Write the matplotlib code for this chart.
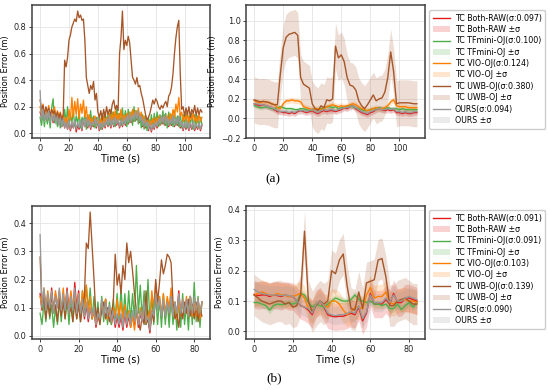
import numpy as np
import matplotlib
matplotlib.use("Agg")
import matplotlib.pyplot as plt

names = ["TC Both-RAW", "TC TFmini-OJ", "TC VIO-OJ", "TC UWB-OJ", "OURS"]
colors = ["#e41a1c", "#4daf4a", "#ff7f00", "#a65628", "#999999"]

a_sigma = [0.097, 0.100, 0.124, 0.380, 0.094]
b_sigma = [0.091, 0.091, 0.103, 0.139, 0.090]
# half width of the shaded band on the smoothed plots
a_band = [0.03, 0.02, 0.03, 0.235, 0.03]
b_band = [0.045, 0.012, 0.04, 0.068, 0.03]

# ---- (a) raw errors, 1 s steps, t = 0..112
a_raw_both = [0.16, 0.12, 0.2, 0.1, 0.15, 0.09, 0.18, 0.11, 0.14, 0.08,
              0.15, 0.1, 0.13, 0.07, 0.12, 0.05, 0.1, 0.04, 0.09, 0.03,
              0.08, 0.02, 0.07, 0.04, 0.09, 0.01, 0.06, 0.03, 0.08, 0.02,
              0.1, 0.05, 0.11, 0.04, 0.09, 0.03, 0.08, 0.05, 0.1, 0.04,
              0.11, 0.02, 0.07, 0.03, 0.08, 0.04, 0.1, 0.05, 0.12, 0.04,
              0.1, 0.05, 0.11, 0.06, 0.1, 0.04, 0.09, 0.05, 0.11, 0.06,
              0.12, 0.07, 0.14, 0.08, 0.13, 0.09, 0.15, 0.1, 0.16, 0.08,
              0.12, 0.05, 0.1, 0.04, 0.08, 0.02, 0.07, 0.01, 0.06, 0.03,
              0.08, 0.04, 0.1, 0.06, 0.12, 0.07, 0.13, 0.06, 0.11, 0.05,
              0.1, 0.06, 0.12, 0.05, 0.11, 0.06, 0.12, 0.04, 0.08, 0.02,
              0.07, 0.03, 0.08, 0.02, 0.07, 0.03, 0.08, 0.02, 0.06, 0.03,
              0.07, 0.02, 0.06]
a_raw_tf = [0.12, 0.06, 0.15, 0.05, 0.17, 0.07, 0.14, 0.04, 0.19, 0.26,
            0.08, 0.15, 0.05, 0.13, 0.04, 0.12, 0.06, 0.18, 0.07, 0.2,
            0.05, 0.14, 0.08, 0.17, 0.05, 0.13, 0.07, 0.16, 0.04, 0.12,
            0.08, 0.15, 0.03, 0.14, 0.06, 0.17, 0.05, 0.13, 0.04, 0.12,
            0.06, 0.14, 0.03, 0.15, 0.05, 0.16, 0.07, 0.14, 0.06, 0.18,
            0.07, 0.16, 0.05, 0.2, 0.08, 0.15, 0.06, 0.19, 0.07, 0.17,
            0.05, 0.18, 0.08, 0.16, 0.06, 0.2, 0.09, 0.17, 0.07, 0.15,
            0.04, 0.14, 0.03, 0.13, 0.02, 0.12, 0.05, 0.14, 0.04, 0.15,
            0.06, 0.16, 0.05, 0.14, 0.07, 0.17, 0.06, 0.15, 0.04, 0.16,
            0.06, 0.14, 0.05, 0.17, 0.06, 0.13, 0.05, 0.15, 0.04, 0.14,
            0.05, 0.16, 0.04, 0.13, 0.06, 0.15, 0.03, 0.14, 0.05, 0.13,
            0.04, 0.12, 0.07]
a_raw_vio = [0.2, 0.14, 0.22, 0.13, 0.19, 0.15, 0.21, 0.12, 0.18, 0.14,
             0.2, 0.11, 0.17, 0.13, 0.16, 0.1, 0.14, 0.08, 0.12, 0.06,
             0.18, 0.1, 0.27, 0.12, 0.24, 0.14, 0.26, 0.11, 0.22, 0.15,
             0.25, 0.12, 0.2, 0.08, 0.14, 0.07, 0.12, 0.06, 0.13, 0.07,
             0.12, 0.06, 0.11, 0.05, 0.13, 0.07, 0.12, 0.08, 0.15, 0.09,
             0.16, 0.1, 0.17, 0.09, 0.15, 0.1, 0.18, 0.09, 0.14, 0.1,
             0.15, 0.09, 0.16, 0.11, 0.18, 0.12, 0.17, 0.13, 0.19, 0.11,
             0.16, 0.09, 0.13, 0.07, 0.11, 0.05, 0.1, 0.06, 0.11, 0.07,
             0.12, 0.08, 0.13, 0.07, 0.12, 0.09, 0.14, 0.08, 0.13, 0.09,
             0.15, 0.1, 0.18, 0.12, 0.22, 0.16, 0.27, 0.13, 0.16, 0.09,
             0.14, 0.09, 0.15, 0.08, 0.14, 0.1, 0.15, 0.09, 0.13, 0.08,
             0.14, 0.09, 0.12]
a_raw_uwb = [0.25, 0.18, 0.21, 0.14, 0.2, 0.16, 0.19, 0.13, 0.18, 0.15,
             0.17, 0.12, 0.16, 0.11, 0.15, 0.1, 0.14, 0.55, 0.5, 0.57,
             0.7, 0.74, 0.8, 0.83, 0.86, 0.84, 0.92, 0.87, 0.89, 0.85,
             0.86, 0.7, 0.42, 0.36, 0.3, 0.36, 0.33, 0.39, 0.25, 0.3,
             0.16, 0.12, 0.17, 0.1, 0.18, 0.12, 0.2, 0.14, 0.18, 0.15,
             0.22, 0.25, 0.18, 0.21, 0.17, 0.6, 0.72, 0.92, 0.63, 0.7,
             0.66, 0.73, 0.68, 0.55, 0.42, 0.4, 0.37, 0.42, 0.35, 0.36,
             0.3, 0.26, 0.2, 0.14, 0.1, 0.12, 0.15, 0.2, 0.25, 0.22,
             0.26, 0.24, 0.2, 0.18, 0.21, 0.19, 0.22, 0.24, 0.2, 0.28,
             0.3, 0.35, 0.45, 0.6, 0.72, 0.8, 0.85, 0.45, 0.18, 0.2,
             0.13, 0.19, 0.14, 0.2, 0.12, 0.18, 0.15, 0.21, 0.13, 0.19,
             0.14, 0.18, 0.16]
a_raw_ours = [0.32, 0.1, 0.18, 0.09, 0.16, 0.1, 0.17, 0.08, 0.15, 0.09,
              0.14, 0.07, 0.13, 0.06, 0.12, 0.05, 0.11, 0.04, 0.09, 0.03,
              0.1, 0.03, 0.09, 0.04, 0.1, 0.03, 0.08, 0.04, 0.1, 0.03,
              0.11, 0.05, 0.12, 0.05, 0.1, 0.04, 0.09, 0.06, 0.11, 0.05,
              0.12, 0.03, 0.08, 0.04, 0.09, 0.05, 0.11, 0.06, 0.13, 0.05,
              0.11, 0.06, 0.12, 0.07, 0.11, 0.05, 0.1, 0.06, 0.12, 0.07,
              0.13, 0.08, 0.15, 0.09, 0.14, 0.1, 0.16, 0.11, 0.17, 0.09,
              0.13, 0.06, 0.11, 0.05, 0.09, 0.03, 0.08, 0.02, 0.07, 0.04,
              0.09, 0.05, 0.11, 0.07, 0.13, 0.08, 0.14, 0.07, 0.12, 0.06,
              0.11, 0.07, 0.13, 0.06, 0.12, 0.07, 0.13, 0.05, 0.09, 0.03,
              0.08, 0.04, 0.09, 0.03, 0.08, 0.04, 0.09, 0.03, 0.07, 0.04,
              0.08, 0.03, 0.07]

# ---- (a) smoothed errors, 2 s steps, t = 0..112
a_sm_both = [0.15, 0.14, 0.13, 0.14, 0.13, 0.12, 0.11, 0.09, 0.07, 0.07,
             0.06, 0.06, 0.05, 0.06, 0.05, 0.07, 0.08, 0.07, 0.06, 0.07,
             0.08, 0.06, 0.05, 0.07, 0.08, 0.07, 0.08, 0.08, 0.07, 0.08,
             0.09, 0.11, 0.10, 0.12, 0.13, 0.10, 0.08, 0.06, 0.05, 0.04,
             0.06, 0.07, 0.09, 0.10, 0.09, 0.08, 0.09, 0.08, 0.09, 0.06,
             0.06, 0.05, 0.06, 0.05, 0.05, 0.06, 0.06]
a_sm_tf = [0.13, 0.12, 0.11, 0.11, 0.12, 0.11, 0.10, 0.10, 0.11, 0.12,
           0.11, 0.10, 0.10, 0.10, 0.09, 0.09, 0.10, 0.10, 0.09, 0.08,
           0.09, 0.10, 0.09, 0.10, 0.11, 0.12, 0.12, 0.11, 0.12, 0.10,
           0.11, 0.12, 0.12, 0.13, 0.12, 0.11, 0.10, 0.09, 0.08, 0.08,
           0.09, 0.10, 0.10, 0.11, 0.10, 0.10, 0.11, 0.10, 0.10, 0.10,
           0.09, 0.10, 0.09, 0.09, 0.09, 0.09, 0.09]
a_sm_vio = [0.18, 0.17, 0.16, 0.17, 0.17, 0.16, 0.15, 0.14, 0.11, 0.10,
            0.15, 0.18, 0.18, 0.19, 0.18, 0.18, 0.17, 0.12, 0.11, 0.10,
            0.09, 0.10, 0.10, 0.09, 0.10, 0.12, 0.13, 0.14, 0.13, 0.12,
            0.13, 0.12, 0.13, 0.14, 0.15, 0.14, 0.12, 0.10, 0.09, 0.08,
            0.09, 0.10, 0.11, 0.10, 0.10, 0.11, 0.13, 0.17, 0.19, 0.13,
            0.12, 0.12, 0.12, 0.11, 0.11, 0.11, 0.11]
a_sm_uwb = [0.19, 0.18, 0.17, 0.175, 0.17, 0.165, 0.15, 0.14, 0.14, 0.45,
            0.72, 0.83, 0.86, 0.87, 0.88, 0.85, 0.42, 0.35, 0.33, 0.31,
            0.15, 0.10, 0.08, 0.13, 0.11, 0.19, 0.18, 0.20, 0.74, 0.62,
            0.65, 0.58, 0.42, 0.34, 0.33, 0.29, 0.18, 0.13, 0.10, 0.14,
            0.19, 0.24, 0.18, 0.20, 0.21, 0.27, 0.42, 0.68, 0.48, 0.15,
            0.16, 0.16, 0.16, 0.16, 0.155, 0.15, 0.15]
a_sm_ours = [0.15, 0.15, 0.14, 0.14, 0.13, 0.12, 0.11, 0.10, 0.08, 0.07,
             0.07, 0.07, 0.06, 0.07, 0.06, 0.08, 0.08, 0.08, 0.07, 0.08,
             0.09, 0.07, 0.06, 0.08, 0.09, 0.08, 0.09, 0.09, 0.08, 0.09,
             0.10, 0.11, 0.11, 0.12, 0.13, 0.11, 0.09, 0.07, 0.06, 0.05,
             0.07, 0.08, 0.09, 0.10, 0.09, 0.09, 0.10, 0.09, 0.10, 0.07,
             0.07, 0.06, 0.07, 0.06, 0.06, 0.07, 0.07]

# ---- (b) raw errors, 1 s steps, t = 0..84
b_raw_both = [0.15, 0.09, 0.16, 0.1, 0.14, 0.08, 0.17, 0.09, 0.15, 0.1,
              0.16, 0.08, 0.14, 0.1, 0.17, 0.09, 0.15, 0.08, 0.19, 0.1,
              0.16, 0.07, 0.14, 0.06, 0.11, 0.05, 0.1, 0.06, 0.09, 0.03,
              0.07, 0.05, 0.12, 0.07, 0.13, 0.06, 0.1, 0.04, 0.08, 0.03,
              0.07, 0.03, 0.07, 0.02, 0.08, 0.03, 0.07, 0.03, 0.08, 0.04,
              0.09, 0.03, 0.08, 0.05, 0.11, 0.04, 0.06, 0.01, 0.08, 0.06,
              0.16, 0.09, 0.12, 0.06, 0.12, 0.06, 0.12, 0.07, 0.14, 0.06,
              0.11, 0.08, 0.16, 0.08, 0.12, 0.07, 0.13, 0.06, 0.14, 0.08,
              0.14, 0.08, 0.13, 0.07, 0.12]
b_raw_tf = [0.08, 0.04, 0.12, 0.05, 0.14, 0.06, 0.11, 0.03, 0.1, 0.04,
            0.12, 0.05, 0.15, 0.06, 0.13, 0.04, 0.14, 0.05, 0.15, 0.06,
            0.13, 0.05, 0.16, 0.07, 0.18, 0.09, 0.17, 0.06, 0.14, 0.05,
            0.12, 0.04, 0.14, 0.05, 0.13, 0.04, 0.12, 0.04, 0.13, 0.06,
            0.15, 0.05, 0.17, 0.06, 0.15, 0.05, 0.16, 0.05, 0.15, 0.06,
            0.25, 0.08, 0.18, 0.06, 0.16, 0.04, 0.2, 0.05, 0.14, 0.04,
            0.15, 0.04, 0.14, 0.03, 0.15, 0.04, 0.13, 0.03, 0.14, 0.04,
            0.12, 0.02, 0.13, 0.03, 0.15, 0.04, 0.12, 0.02, 0.14, 0.04,
            0.19, 0.05, 0.14, 0.03, 0.12]
b_raw_vio = [0.14, 0.1, 0.17, 0.1, 0.16, 0.11, 0.15, 0.09, 0.16, 0.1,
             0.15, 0.09, 0.17, 0.1, 0.15, 0.09, 0.16, 0.1, 0.14, 0.09,
             0.15, 0.09, 0.16, 0.1, 0.18, 0.08, 0.14, 0.06, 0.09, 0.04,
             0.08, 0.05, 0.12, 0.08, 0.13, 0.06, 0.1, 0.05, 0.1, 0.07,
             0.13, 0.07, 0.12, 0.06, 0.11, 0.05, 0.09, 0.03, 0.07, 0.02,
             0.08, 0.05, 0.1, 0.06, 0.1, 0.05, 0.09, 0.06, 0.16, 0.1,
             0.19, 0.11, 0.14, 0.08, 0.15, 0.08, 0.14, 0.1, 0.17, 0.07,
             0.12, 0.06, 0.12, 0.07, 0.13, 0.08, 0.14, 0.07, 0.14, 0.07,
             0.13, 0.07, 0.13, 0.06, 0.12]
b_raw_uwb = [0.28, 0.1, 0.14, 0.06, 0.12, 0.07, 0.15, 0.08, 0.11, 0.05,
             0.13, 0.07, 0.12, 0.06, 0.14, 0.08, 0.1, 0.05, 0.12, 0.06,
             0.11, 0.05, 0.1, 0.14, 0.33, 0.31, 0.44, 0.32, 0.2, 0.06,
             0.1, 0.04, 0.09, 0.12, 0.06, 0.1, 0.05, 0.08, 0.12, 0.29,
             0.18, 0.22, 0.15, 0.25, 0.2, 0.33, 0.26, 0.3, 0.23, 0.15,
             0.09, 0.05, 0.02, 0.07, 0.04, 0.16, 0.06, 0.02, 0.09, 0.05,
             0.2, 0.12, 0.19, 0.27, 0.22, 0.25, 0.29, 0.28, 0.26, 0.12,
             0.06, 0.08, 0.03, 0.1, 0.06, 0.12, 0.08, 0.13, 0.07, 0.11,
             0.06, 0.12, 0.05, 0.1, 0.07]
b_raw_ours = [0.36, 0.1, 0.17, 0.09, 0.15, 0.1, 0.16, 0.08, 0.14, 0.1,
              0.17, 0.09, 0.15, 0.09, 0.16, 0.08, 0.14, 0.09, 0.17, 0.08,
              0.15, 0.08, 0.13, 0.07, 0.12, 0.06, 0.1, 0.07, 0.1, 0.04,
              0.08, 0.06, 0.13, 0.07, 0.12, 0.07, 0.11, 0.05, 0.09, 0.04,
              0.08, 0.04, 0.08, 0.03, 0.09, 0.04, 0.08, 0.04, 0.09, 0.05,
              0.1, 0.04, 0.09, 0.05, 0.12, 0.05, 0.07, 0.02, 0.09, 0.07,
              0.15, 0.09, 0.13, 0.07, 0.13, 0.07, 0.12, 0.08, 0.14, 0.07,
              0.12, 0.08, 0.15, 0.08, 0.13, 0.08, 0.13, 0.07, 0.14, 0.08,
              0.14, 0.09, 0.13, 0.08, 0.12]

# ---- (b) smoothed errors, 2 s steps, t = 0..84
b_sm_both = [0.122, 0.118, 0.12, 0.12, 0.115, 0.12, 0.118, 0.115, 0.12, 0.115,
             0.115, 0.10, 0.085, 0.08, 0.07, 0.055, 0.09, 0.10, 0.08, 0.055,
             0.05, 0.048, 0.05, 0.05, 0.055, 0.06, 0.055, 0.08, 0.035, 0.06,
             0.125, 0.09, 0.09, 0.09, 0.105, 0.09, 0.125, 0.095, 0.095, 0.11,
             0.11, 0.105, 0.10]
b_sm_tf = [0.095, 0.095, 0.09, 0.085, 0.07, 0.085, 0.09, 0.088, 0.09, 0.095,
           0.09, 0.095, 0.125, 0.12, 0.095, 0.08, 0.09, 0.085, 0.08, 0.09,
           0.10, 0.11, 0.105, 0.10, 0.10, 0.105, 0.12, 0.105, 0.10, 0.095,
           0.10, 0.09, 0.09, 0.085, 0.09, 0.075, 0.075, 0.09, 0.072, 0.085,
           0.095, 0.08, 0.095]
b_sm_vio = [0.12, 0.125, 0.13, 0.125, 0.12, 0.12, 0.125, 0.12, 0.12, 0.115,
            0.115, 0.12, 0.125, 0.11, 0.075, 0.065, 0.09, 0.10, 0.085, 0.08,
            0.10, 0.10, 0.09, 0.07, 0.055, 0.065, 0.08, 0.08, 0.075, 0.12,
            0.145, 0.11, 0.115, 0.115, 0.13, 0.095, 0.09, 0.10, 0.105, 0.105,
            0.10, 0.10, 0.095]
b_sm_uwb = [0.12, 0.11, 0.10, 0.095, 0.09, 0.095, 0.10, 0.10, 0.09, 0.095,
            0.08, 0.085, 0.12, 0.33, 0.10, 0.065, 0.085, 0.10, 0.09, 0.10,
            0.20, 0.19, 0.235, 0.255, 0.15, 0.075, 0.07, 0.13, 0.075, 0.16,
            0.165, 0.17, 0.235, 0.24, 0.18, 0.085, 0.085, 0.10, 0.105, 0.11,
            0.10, 0.09, 0.09]
b_sm_ours = [0.138, 0.13, 0.125, 0.122, 0.12, 0.12, 0.12, 0.118, 0.12, 0.118,
             0.115, 0.10, 0.085, 0.08, 0.075, 0.06, 0.09, 0.10, 0.085, 0.06,
             0.055, 0.052, 0.055, 0.055, 0.06, 0.065, 0.06, 0.085, 0.042, 0.065,
             0.12, 0.095, 0.095, 0.095, 0.11, 0.095, 0.12, 0.10, 0.10, 0.11,
             0.115, 0.11, 0.105]

a_raw = [a_raw_both, a_raw_tf, a_raw_vio, a_raw_uwb, a_raw_ours]
a_sm = [a_sm_both, a_sm_tf, a_sm_vio, a_sm_uwb, a_sm_ours]
b_raw = [b_raw_both, b_raw_tf, b_raw_vio, b_raw_uwb, b_raw_ours]
b_sm = [b_sm_both, b_sm_tf, b_sm_vio, b_sm_uwb, b_sm_ours]

W, H = 550, 390
fig = plt.figure(figsize=(W / 100, H / 100), dpi=100)


def px_axes(x0, y0, x1, y1):
    return fig.add_axes([x0 / W, 1 - y1 / H, (x1 - x0) / W, (y1 - y0) / H])


def style(ax):
    ax.grid(True, color="#e4e4e4", lw=0.6)
    ax.set_axisbelow(True)
    for sp in ax.spines.values():
        sp.set_color("#404040")
        sp.set_linewidth(1.1)
    ax.tick_params(labelsize=5.9, length=2.5, width=0.6, pad=1.5, colors="#222222")
    ax.set_xlabel("Time (s)", fontsize=6.9, labelpad=1.0)
    ax.set_ylabel("Position Error (m)", fontsize=5.9, labelpad=2.5)


def draw_raw(ax, series):
    for vals, c in zip(series, colors):
        t = np.arange(len(vals))
        ax.plot(t, vals, color=c, lw=0.95)
    style(ax)


def draw_smooth(ax, series, bands, sigmas, legend_xy):
    handles, labels = [], []
    for vals, hw, s, c, n in zip(series, bands, sigmas, colors, names):
        v = np.array(vals)
        t = np.arange(len(v)) * 2
        ln, = ax.plot(t, v, color=c, lw=1.0)
        fb = ax.fill_between(t, v - hw, v + hw, color=c, alpha=0.2, lw=0)
        handles += [ln, fb]
        labels += [f"{n}(σ:{s:.3f})", f"{n} ±σ"]
    style(ax)
    ax.legend(handles, labels, loc="upper left",
              bbox_to_anchor=(legend_xy[0] / W, 1 - legend_xy[1] / H),
              bbox_transform=fig.transFigure, fontsize=5.7, borderaxespad=0,
              borderpad=0.45, labelspacing=0.3, handlelength=2.2,
              handletextpad=0.6, edgecolor="#cccccc", framealpha=1.0)


ax1 = px_axes(32, 5, 210, 138)
draw_raw(ax1, a_raw)
ax1.set_yticks([0.0, 0.2, 0.4, 0.6, 0.8])

ax2 = px_axes(246, 5, 425, 138)
draw_smooth(ax2, a_sm, a_band, a_sigma, (429, 10))
ax2.set_ylim(-0.2, 1.16)
ax2.set_yticks([-0.2, 0.0, 0.2, 0.4, 0.6, 0.8, 1.0])

ax3 = px_axes(32, 206, 210, 339)
draw_raw(ax3, b_raw)

ax4 = px_axes(246, 206, 425, 339)
draw_smooth(ax4, b_sm, b_band, b_sigma, (429, 210))
ax4.set_ylim(-0.025, 0.413)
ax4.set_yticks([0.0, 0.1, 0.2, 0.3, 0.4])

fig.text(273 / W, 1 - 179 / H, "(a)", ha="center", va="center",
         fontsize=9.5, family="Liberation Serif")
fig.text(274 / W, 1 - 378 / H, "(b)", ha="center", va="center",
         fontsize=9.5, family="Liberation Serif")

fig.savefig("out.png", dpi=100)
